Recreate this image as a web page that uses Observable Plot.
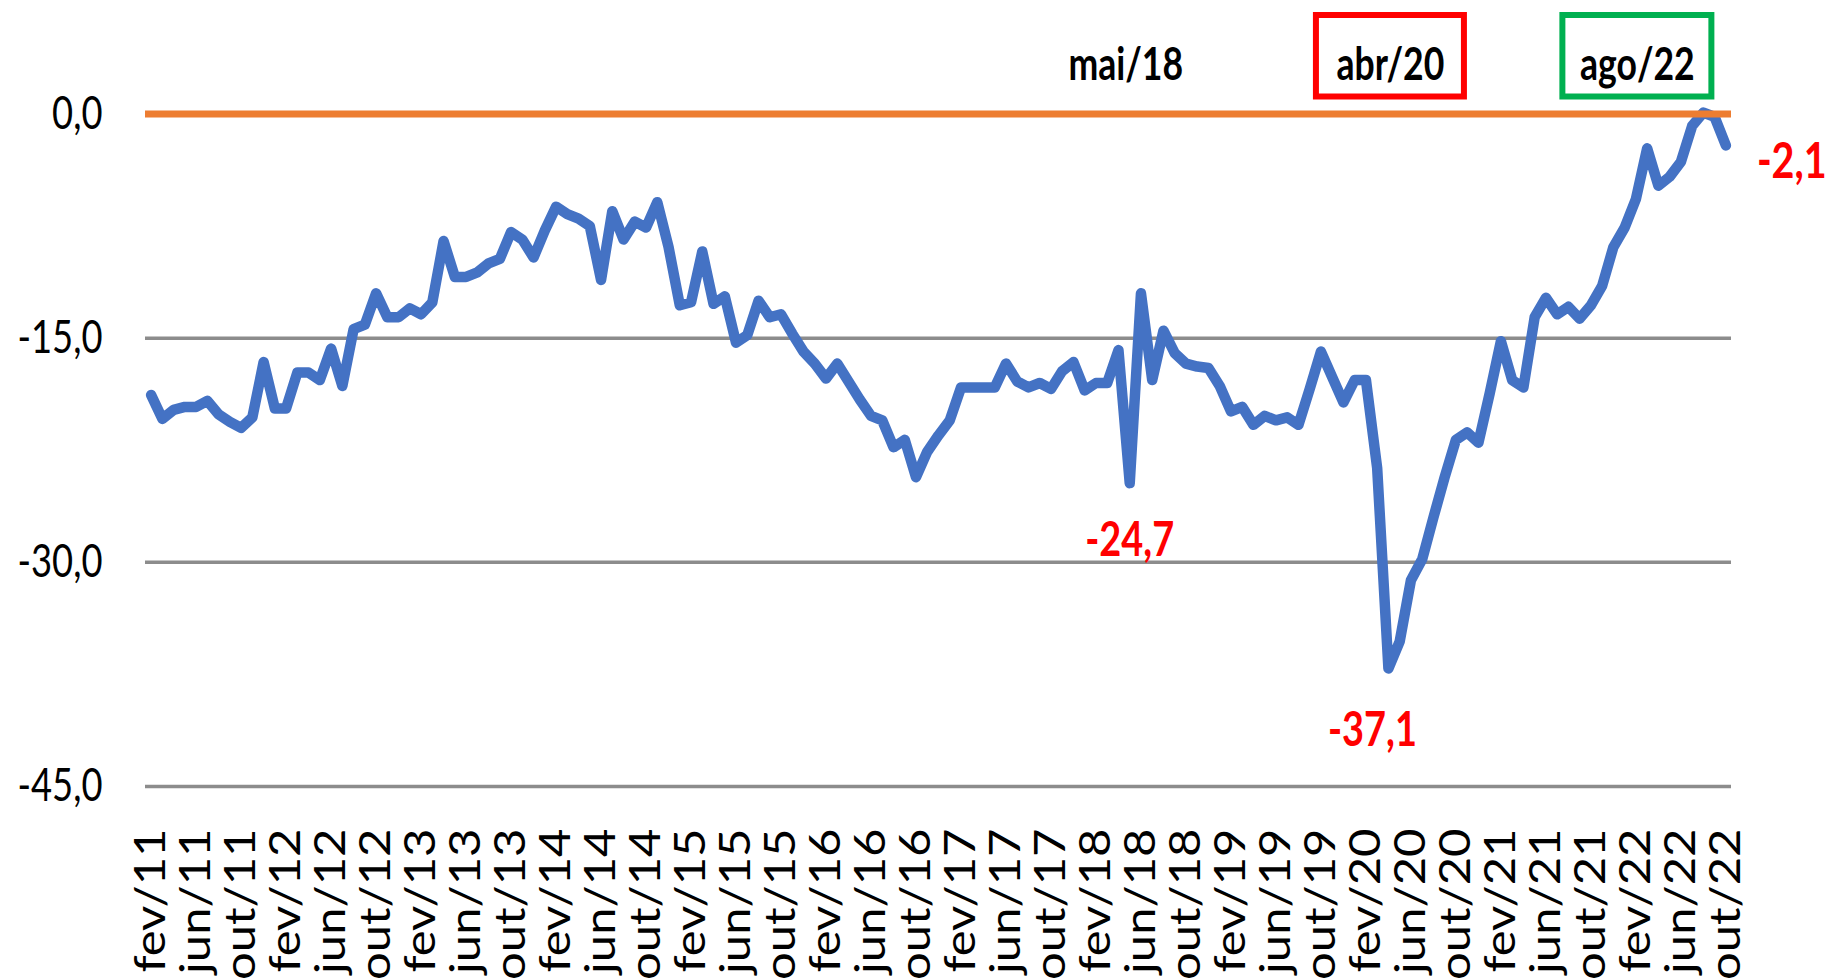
<!DOCTYPE html>
<html><head><meta charset="utf-8">
<script src="https://cdn.jsdelivr.net/npm/d3@7"></script>
<script src="https://cdn.jsdelivr.net/npm/@observablehq/plot@0.6"></script>
<style>html,body{margin:0;padding:0;background:#fff;overflow:hidden} svg{display:block}</style>
</head><body><div id="chart"></div>
<script>
// Month names (pt-BR) and years
const monthNames = ["jan","fev","mar","abr","mai","jun","jul","ago","set","out","nov","dez"];
// Series values by year (2011 starts in fev, 2022 ends in out)
const v2011 = [-18.8,-20.4,-19.8,-19.6,-19.6,-19.2,-20.1,-20.6,-21.0,-20.3,-16.6];
const v2012 = [-19.7,-19.7,-17.3,-17.3,-17.8,-15.7,-18.2,-14.4,-14.1,-12.0,-13.6,-13.6];
const v2013 = [-13.0,-13.4,-12.6,-8.5,-10.9,-10.9,-10.6,-10.0,-9.7,-7.9,-8.4,-9.6];
const v2014 = [-7.8,-6.2,-6.7,-7.0,-7.5,-11.1,-6.5,-8.4,-7.2,-7.6,-5.9,-8.9];
const v2015 = [-12.8,-12.6,-9.2,-12.7,-12.2,-15.3,-14.8,-12.5,-13.6,-13.4,-14.7,-15.9];
const v2016 = [-16.7,-17.7,-16.7,-17.9,-19.1,-20.2,-20.5,-22.3,-21.8,-24.3,-22.6,-21.5];
const v2017 = [-20.5,-18.3,-18.3,-18.3,-18.3,-16.7,-17.9,-18.3,-18.0,-18.4,-17.2,-16.6];
const v2018 = [-18.5,-18.0,-18.0,-15.8,-24.7,-12.0,-17.8,-14.5,-16.0,-16.7,-16.9,-17.0];
const v2019 = [-18.2,-19.9,-19.6,-20.8,-20.2,-20.5,-20.3,-20.8,-18.4,-15.9,-17.6,-19.3];
const v2020 = [-17.8,-17.8,-23.7,-37.1,-35.3,-31.2,-29.8,-27.0,-24.3,-21.8,-21.3,-22.0];
const v2021 = [-18.7,-15.2,-17.8,-18.3,-13.6,-12.3,-13.4,-12.9,-13.7,-12.8,-11.5,-8.9];
const v2022 = [-7.6,-5.7,-2.3,-4.8,-4.2,-3.2,-0.8,0.1,-0.2,-2.1];
const yearSeries = [
  ["11", v2011, 1], ["12", v2012, 0], ["13", v2013, 0], ["14", v2014, 0],
  ["15", v2015, 0], ["16", v2016, 0], ["17", v2017, 0], ["18", v2018, 0],
  ["19", v2019, 0], ["20", v2020, 0], ["21", v2021, 0], ["22", v2022, 0]
];
// Tick labels on the x axis
const tickLabels = ["fev/11","jun/11","out/11","fev/12","jun/12","out/12","fev/13","jun/13","out/13",
  "fev/14","jun/14","out/14","fev/15","jun/15","out/15","fev/16","jun/16","out/16",
  "fev/17","jun/17","out/17","fev/18","jun/18","out/18","fev/19","jun/19","out/19",
  "fev/20","jun/20","out/20","fev/21","jun/21","out/21","fev/22","jun/22","out/22"];
const yTicks = [0, -15, -30, -45];
// Highlighted values
const minMay18 = [{month: "mai/18", value: -24.7, text: "-24,7"}];
const minApr20 = [{month: "abr/20", value: -37.1, text: "-37,1"}];
const lastOct22 = [{month: "out/22", value: -2.1, text: "-2,1"}];
// Event labels at top
const evMay18 = [{month: "mai/18", text: "mai/18"}];
const evApr20 = [{month: "abr/20", text: "abr/20"}];
const evAug22 = [{month: "ago/22", text: "ago/22"}];

const data = [];
for (const [yy, arr, start] of yearSeries) {
  arr.forEach((v, k) => data.push({month: monthNames[start + k] + "/" + yy, value: v}));
}
const months = data.map(d => d.month);

const fmt = d => d.toFixed(1).replace(".", ",");
const topY = () => 0;

const svg = Plot.plot({
  width: 1825,
  height: 978,
  marginLeft: 145,
  marginRight: 94,
  marginTop: 113.5,
  marginBottom: 192,
  style: {fontFamily: "Lato", color: "#000", background: "#fff"},
  x: {type: "point", domain: months, padding: 0.5, axis: null},
  y: {domain: [-45, 0], axis: null},
  marks: [
    Plot.ruleY(yTicks, {stroke: "#8c8c8c", strokeWidth: 3.5}),
    Plot.axisY(yTicks, {tickSize: 0, tickPadding: 43, fontSize: 46, tickFormat: fmt, label: null, fill: "#000"}),
    Plot.axisX(tickLabels, {tickSize: 0, tickPadding: 42, tickRotate: -90, fontSize: 49, label: null, fill: "#000"}),
    Plot.line(data, {x: "month", y: "value", stroke: "#4472C4", strokeWidth: 10.5, strokeLinejoin: "round", strokeLinecap: "round"}),
    Plot.ruleY([0], {stroke: "#ED7D31", strokeWidth: 7}),
    Plot.rect(evApr20, {x1: "month", x2: "month", y1: topY, y2: topY, dx: 2, insetLeft: -74, insetRight: -74, insetTop: -98.5, insetBottom: 17, fill: "none", stroke: "#FF0000", strokeWidth: 6}),
    Plot.rect(evAug22, {x1: "month", x2: "month", y1: topY, y2: topY, dx: -66, insetLeft: -74.5, insetRight: -74.5, insetTop: -98.5, insetBottom: 17, fill: "none", stroke: "#00B050", strokeWidth: 6}),
    Plot.text(evMay18, {x: "month", y: topY, text: "text", dx: -4, dy: -34.5, lineAnchor: "bottom", fontSize: 45, fontWeight: "bold", fill: "#000"}),
    Plot.text(evApr20, {x: "month", y: topY, text: "text", dx: 2, dy: -34.5, lineAnchor: "bottom", fontSize: 45, fontWeight: "bold", fill: "#000"}),
    Plot.text(evAug22, {x: "month", y: topY, text: "text", dx: -66, dy: -34.5, lineAnchor: "bottom", fontSize: 45, fontWeight: "bold", fill: "#000"}),
    Plot.text(minMay18, {x: "month", y: "value", text: "text", dy: 72.5, lineAnchor: "bottom", fontSize: 48, fontWeight: "bold", fill: "#FF0000"}),
    Plot.text(minApr20, {x: "month", y: "value", text: "text", dx: -16, dy: 78, lineAnchor: "bottom", fontSize: 48, fontWeight: "bold", fill: "#FF0000"}),
    Plot.text(lastOct22, {x: "month", y: "value", text: "text", dx: 31, dy: 33, lineAnchor: "bottom", textAnchor: "start", fontSize: 50, fontWeight: "bold", fill: "#FF0000"})
  ]
});

// condense texts horizontally (reference glyphs are narrow); rotated x labels get thinner glyphs
d3.select(svg).selectAll("text").each(function() {
  const isX = !!this.closest('g[aria-label="x-axis tick label"]');
  const s = isX ? "scale(1,0.88)" : "scale(0.79,1)";
  const t = this.getAttribute("transform");
  if (t) this.setAttribute("transform", t + " " + s);
  else {
    const x = +(this.getAttribute("x") || 0), y = +(this.getAttribute("y") || 0);
    this.setAttribute("transform", `translate(${x},${y}) ${s} translate(${-x},${-y})`);
  }
});
document.getElementById("chart").appendChild(svg);
</script>
</body></html>
